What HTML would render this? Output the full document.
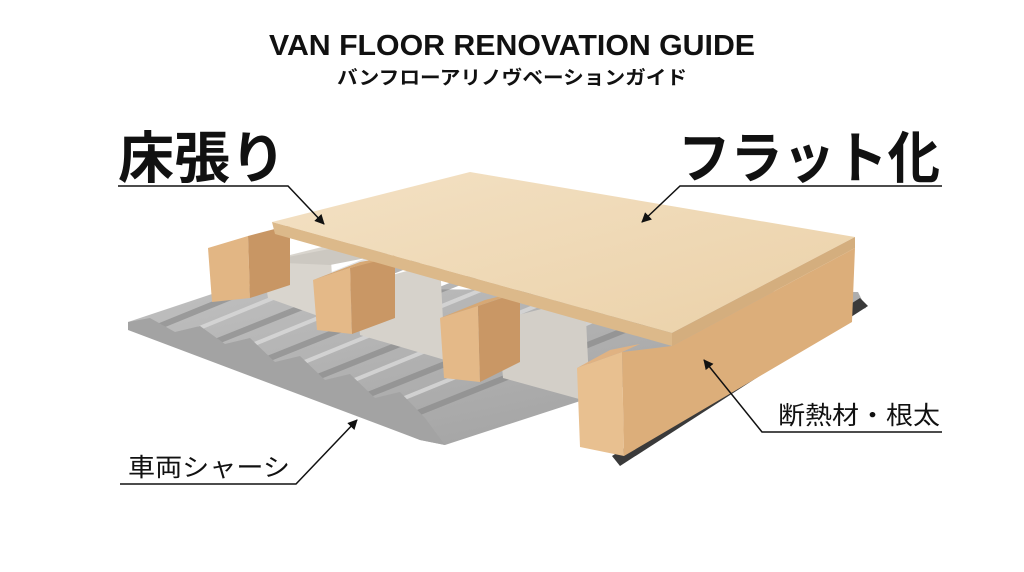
<!DOCTYPE html>
<html><head><meta charset="utf-8"><style>
html,body{margin:0;padding:0;background:#fff;width:1024px;height:572px;overflow:hidden}
svg{display:block}
</style></head><body>
<svg width="1024" height="572" viewBox="0 0 1024 572" xmlns="http://www.w3.org/2000/svg">
<defs>
<linearGradient id="metal" x1="0" y1="0" x2="1" y2="1">
<stop offset="0" stop-color="#c0c0c0"/><stop offset="1" stop-color="#9c9c9c"/></linearGradient>
<linearGradient id="board" x1="0" y1="0" x2="1" y2="1">
<stop offset="0" stop-color="#f3e1c4"/><stop offset="1" stop-color="#ebd1a8"/></linearGradient>
<marker id="ah" viewBox="0 0 10 10" refX="9" refY="5" markerWidth="10" markerHeight="10" orient="auto-start-reverse" markerUnits="userSpaceOnUse">
<path d="M0,0 L10,5 L0,10 z" fill="#111"/></marker>
</defs>
<rect width="1024" height="572" fill="#fff"/>
<text x="512" y="55" text-anchor="middle" font-family="Liberation Sans, sans-serif" font-weight="bold" font-size="29" textLength="486" lengthAdjust="spacingAndGlyphs" fill="#111">VAN FLOOR RENOVATION GUIDE</text>
<text x="512" y="84" text-anchor="middle" font-family="Liberation Sans, Noto Sans CJK JP, sans-serif" font-weight="bold" font-size="19" textLength="350" lengthAdjust="spacingAndGlyphs" fill="#111">バンフローアリノヴベーションガイド</text>
<!-- metal chassis -->
<polygon points="128,322 230,288 858,292 866,308 445,445 420,440" fill="url(#metal)"/>
<g stroke="#858585" stroke-width="6" opacity="0.6" fill="none">
<line x1="150" y1="330" x2="420" y2="220"/>
<line x1="200" y1="348" x2="470" y2="240"/>
<line x1="250" y1="366" x2="520" y2="258"/>
<line x1="300" y1="384" x2="570" y2="276"/>
<line x1="350" y1="402" x2="620" y2="294"/>
<line x1="400" y1="420" x2="660" y2="316"/>
</g>
<g stroke="#dadada" stroke-width="4" opacity="0.8" fill="none">
<line x1="175" y1="338" x2="440" y2="230"/>
<line x1="225" y1="356" x2="490" y2="248"/>
<line x1="275" y1="374" x2="540" y2="266"/>
<line x1="325" y1="392" x2="590" y2="284"/>
<line x1="375" y1="410" x2="640" y2="302"/>
</g>
<polygon points="128,322 150,318 175,332 200,326 225,344 250,338 275,362 300,356 325,380 350,374 375,398 400,392 425,418 445,445 420,440 128,330" fill="#a3a3a3"/>
<!-- rail -->
<polygon points="612,456 860,298 868,306 620,466" fill="#3a3a3a"/>
<!-- insulation -->
<polygon points="262,262 330,245 335,322 268,298" fill="#d9d5ce"/>
<polygon points="355,285 440,262 445,360 360,335" fill="#d6d2cb"/>
<polygon points="498,320 585,298 590,402 503,378" fill="#d3cfc8"/>
<polygon points="262,262 480,220 520,228 330,265" fill="#ccc8c1"/>
<!-- left beam -->
<polygon points="208,248 248,236 250,298 212,302" fill="#e2b684"/>
<polygon points="248,236 290,225 290,285 250,298" fill="#c89664"/>
<!-- second beam -->
<polygon points="313,280 350,268 352,334 317,330" fill="#e4b988"/>
<polygon points="350,268 395,255 395,318 352,334" fill="#c99765"/>
<polygon points="313,280 360,262 400,255 350,268" fill="#d7a874"/>
<!-- third beam -->
<polygon points="440,318 478,306 480,382 444,378" fill="#e4b988"/>
<polygon points="478,306 520,292 520,362 480,382" fill="#c99765"/>
<polygon points="440,318 485,300 525,290 478,306" fill="#d7a874"/>
<!-- board -->
<polygon points="272,222 470,172 855,237 672,333" fill="url(#board)"/>
<polygon points="272,222 672,333 672,346 275,234" fill="#dcb98a"/>
<polygon points="672,333 855,237 855,248 672,346" fill="#d4ae7e"/>
<!-- front beam -->
<polygon points="577,368 622,352 624,456 580,447" fill="#e8c090"/>
<polygon points="622,352 672,346 855,248 852,322 624,456" fill="#dcae7a"/>
<polygon points="577,368 610,350 640,344 622,352" fill="#e0b282"/>
<!-- labels -->
<g font-family="Liberation Sans, Noto Sans CJK JP, sans-serif" font-weight="bold" fill="#111">
<text x="118" y="178" font-size="56">床張り</text>
<text x="678" y="178" font-size="56" textLength="262" lengthAdjust="spacingAndGlyphs">フラット化</text>
<text x="778" y="424" font-size="25" font-weight="normal" textLength="162" lengthAdjust="spacingAndGlyphs">断熱材・根太</text>
<text x="128" y="476" font-size="25" font-weight="normal" textLength="162" lengthAdjust="spacingAndGlyphs">車両シャーシ</text>
</g>
<g stroke="#111" stroke-width="1.5" fill="none">
<polyline points="118,186 288,186 324,224" marker-end="url(#ah)"/>
<polyline points="942,186 680,186 642,222" marker-end="url(#ah)"/>
<polyline points="942,432 762,432 704,360" marker-end="url(#ah)"/>
<polyline points="120,484 296,484 357,420" marker-end="url(#ah)"/>
</g>
</svg>
</body></html>
